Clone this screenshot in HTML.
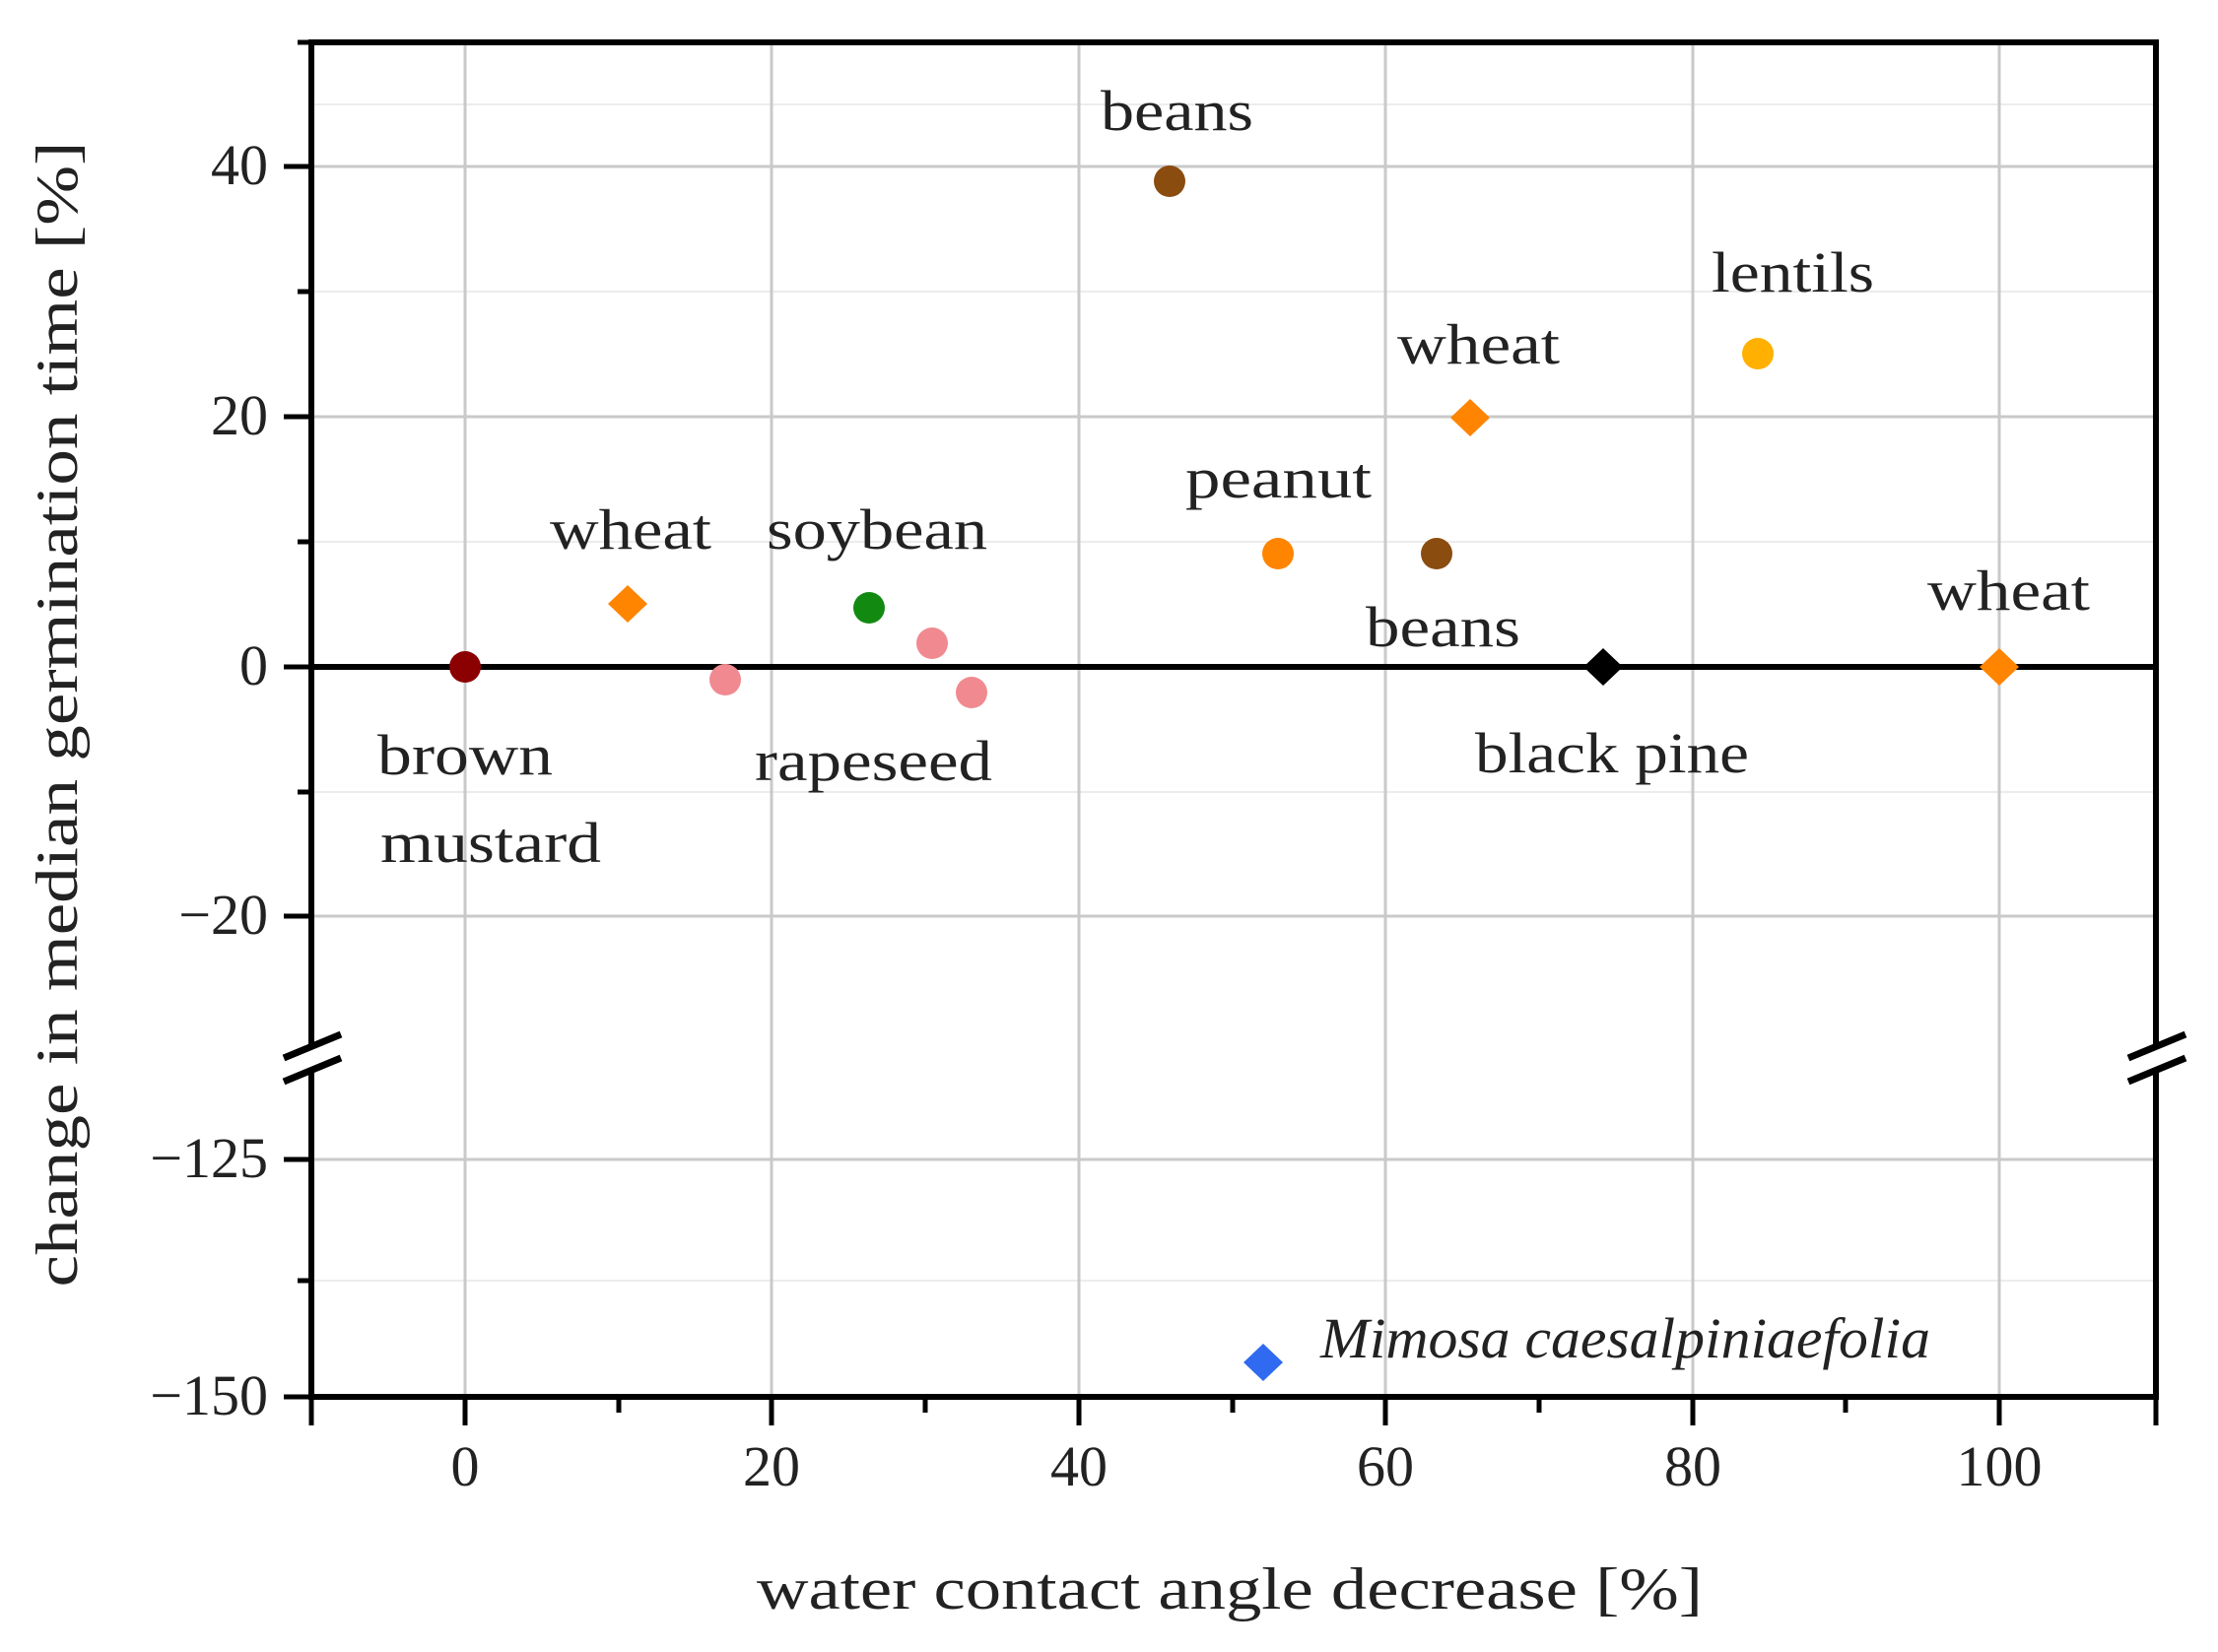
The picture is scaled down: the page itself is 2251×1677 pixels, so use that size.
<!DOCTYPE html>
<html><head><meta charset="utf-8"><style>html,body{margin:0;padding:0;background:#fff}svg{display:block}</style></head>
<body>
<svg width="2251" height="1677" viewBox="0 0 2251 1677" xmlns="http://www.w3.org/2000/svg" font-family="Liberation Serif, serif" fill="#222">
<rect width="2251" height="1677" fill="#fff"/>
<g stroke="#ececec" stroke-width="2">
<line x1="316" x2="2188" y1="296" y2="296"/><line x1="316" x2="2188" y1="550" y2="550"/>
<line x1="316" x2="2188" y1="804" y2="804"/><line x1="316" x2="2188" y1="1300" y2="1300"/>
<line x1="316" x2="2188" y1="106" y2="106"/>
</g>
<g stroke="#c9c9c9" stroke-width="3">
<line x1="316" x2="2188" y1="169" y2="169"/><line x1="316" x2="2188" y1="423" y2="423"/>
<line x1="316" x2="2188" y1="930" y2="930"/><line x1="316" x2="2188" y1="1177" y2="1177"/>
<line x1="472" x2="472" y1="43" y2="1418"/><line x1="783" x2="783" y1="43" y2="1418"/>
<line x1="1095" x2="1095" y1="43" y2="1418"/><line x1="1406" x2="1406" y1="43" y2="1418"/>
<line x1="1718" x2="1718" y1="43" y2="1418"/><line x1="2029" x2="2029" y1="43" y2="1418"/>
</g>
<g stroke="#000" stroke-width="6" fill="none">
<line x1="313" x2="2191" y1="43" y2="43"/>
<line x1="313" x2="2191" y1="1418" y2="1418"/>
<line x1="316" x2="316" y1="40" y2="1060"/><line x1="316" x2="316" y1="1086" y2="1421"/>
<line x1="2188" x2="2188" y1="40" y2="1060"/><line x1="2188" x2="2188" y1="1086" y2="1421"/>
<line x1="316" x2="2188" y1="677" y2="677"/>
</g>
<g stroke="#000" stroke-width="7">
<line x1="288" y1="1074" x2="346" y2="1050"/><line x1="288" y1="1098" x2="346" y2="1074"/>
<line x1="2160" y1="1074" x2="2218" y2="1050"/><line x1="2160" y1="1098" x2="2218" y2="1074"/>
</g>
<g stroke="#000" stroke-width="5">
<line x1="288" x2="316" y1="169" y2="169"/><line x1="288" x2="316" y1="423" y2="423"/>
<line x1="288" x2="316" y1="677" y2="677"/><line x1="288" x2="316" y1="930" y2="930"/>
<line x1="288" x2="316" y1="1177" y2="1177"/><line x1="288" x2="316" y1="1418" y2="1418"/>
<line x1="302" x2="316" y1="296" y2="296"/><line x1="302" x2="316" y1="550" y2="550"/>
<line x1="302" x2="316" y1="804" y2="804"/><line x1="302" x2="316" y1="1300" y2="1300"/>
<line x1="302" x2="316" y1="43" y2="43"/>
<line x1="472" x2="472" y1="1418" y2="1447"/><line x1="783" x2="783" y1="1418" y2="1447"/>
<line x1="1095" x2="1095" y1="1418" y2="1447"/><line x1="1406" x2="1406" y1="1418" y2="1447"/>
<line x1="1718" x2="1718" y1="1418" y2="1447"/><line x1="2029" x2="2029" y1="1418" y2="1447"/>
<line x1="316" x2="316" y1="1418" y2="1447"/><line x1="2188" x2="2188" y1="1418" y2="1447"/>
<line x1="628" x2="628" y1="1418" y2="1434"/><line x1="939" x2="939" y1="1418" y2="1434"/>
<line x1="1251" x2="1251" y1="1418" y2="1434"/><line x1="1562" x2="1562" y1="1418" y2="1434"/>
<line x1="1873" x2="1873" y1="1418" y2="1434"/>
</g>
<g font-size="58" text-anchor="end">
<text x="272" y="187">40</text><text x="272" y="441">20</text><text x="272" y="695">0</text>
<text x="272" y="948">−20</text><text x="272" y="1195">−125</text><text x="272" y="1436">−150</text>
</g>
<g font-size="58" text-anchor="middle">
<text x="472" y="1508">0</text><text x="783" y="1508">20</text><text x="1095" y="1508">40</text>
<text x="1406" y="1508">60</text><text x="1718" y="1508">80</text><text x="2029" y="1508">100</text>
</g>
<text x="1248" y="1633" font-size="60" text-anchor="middle" textLength="960" lengthAdjust="spacingAndGlyphs">water contact angle decrease [%]</text>
<text transform="translate(78,725) rotate(-90)" font-size="60" text-anchor="middle" textLength="1163" lengthAdjust="spacingAndGlyphs">change in median germination time [%]</text>
<circle cx="472" cy="677" r="16" fill="#8b0000"/>
<path d="M637,594 l20,19 l-20,19 l-20,-19z" fill="#ff8400"/>
<circle cx="736" cy="690" r="16" fill="#f08a90"/>
<circle cx="946" cy="653" r="16" fill="#f08a90"/>
<circle cx="986" cy="703" r="16" fill="#f08a90"/>
<circle cx="882" cy="617" r="16" fill="#128a12"/>
<circle cx="1187" cy="184" r="16" fill="#8b4c10"/>
<circle cx="1297" cy="562" r="16" fill="#ff8400"/>
<circle cx="1458" cy="562" r="16" fill="#8b4c10"/>
<path d="M1492,405 l20,19 l-20,19 l-20,-19z" fill="#ff8400"/>
<circle cx="1784" cy="359" r="16" fill="#ffb000"/>
<path d="M1627,658 l20,19 l-20,19 l-20,-19z" fill="#000"/>
<path d="M2029,658 l20,19 l-20,19 l-20,-19z" fill="#ff8400"/>
<path d="M1282,1364 l20,19 l-20,19 l-20,-19z" fill="#2f6af0"/>
<g font-size="58">
<text x="1117" y="132" textLength="155" lengthAdjust="spacingAndGlyphs">beans</text>
<text x="1737" y="296" textLength="165" lengthAdjust="spacingAndGlyphs">lentils</text>
<text x="1418" y="369" textLength="165" lengthAdjust="spacingAndGlyphs">wheat</text>
<text x="1203" y="505" textLength="189" lengthAdjust="spacingAndGlyphs">peanut</text>
<text x="558" y="557" textLength="164" lengthAdjust="spacingAndGlyphs">wheat</text>
<text x="778" y="557" textLength="224" lengthAdjust="spacingAndGlyphs">soybean</text>
<text x="1956" y="619" textLength="165" lengthAdjust="spacingAndGlyphs">wheat</text>
<text x="1386" y="656" textLength="157" lengthAdjust="spacingAndGlyphs">beans</text>
<text x="383" y="786" textLength="178" lengthAdjust="spacingAndGlyphs">brown</text>
<text x="386" y="875" textLength="224" lengthAdjust="spacingAndGlyphs">mustard</text>
<text x="766" y="792" textLength="241" lengthAdjust="spacingAndGlyphs">rapeseed</text>
<text x="1497" y="784" textLength="278" lengthAdjust="spacingAndGlyphs">black pine</text>
<text x="1340" y="1378" font-style="italic" textLength="619" lengthAdjust="spacingAndGlyphs">Mimosa caesalpiniaefolia</text>
</g>
</svg>
</body></html>
